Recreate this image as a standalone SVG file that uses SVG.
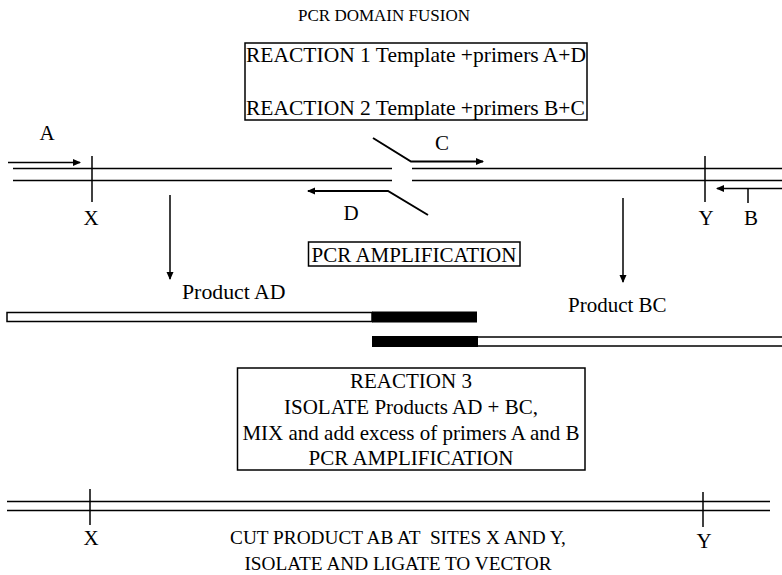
<svg xmlns="http://www.w3.org/2000/svg" width="782" height="575" viewBox="0 0 782 575">
<style>
text{font-family:"Liberation Serif","Times New Roman",serif;fill:#000;font-size:21px}
.ln{stroke:#000;stroke-width:1.5;fill:none}
.pr{stroke:#000;stroke-width:2;fill:none}
.box{stroke:#000;stroke-width:1.5;fill:none}
.mid{text-anchor:middle}
.big{font-size:21.5px}
.sm{font-size:19.3px}
</style>
<defs>
<marker id="ah" markerWidth="8" markerHeight="8" refX="7" refY="4" orient="auto" markerUnits="userSpaceOnUse">
<path d="M0,0.5 L8,4 L0,7.5 Z" fill="#000"/>
</marker>
</defs>
<g id="title"><text x="384" y="21" class="mid" style="font-size:17px">PCR DOMAIN FUSION</text></g>
<g id="reaction12">
<rect x="245" y="43" width="342" height="77" class="box"/>
<text x="246" y="62" class="big">REACTION 1 Template +primers A+D</text>
<text x="246" y="115" class="big">REACTION 2 Template +primers B+C</text>
</g>
<g id="template">
<line x1="13" y1="168.5" x2="392" y2="168.5" class="ln"/>
<line x1="13" y1="180.5" x2="392" y2="180.5" class="ln"/>
<line x1="412" y1="168.5" x2="782" y2="168.5" class="ln"/>
<line x1="412" y1="180.5" x2="782" y2="180.5" class="ln"/>
<line x1="92" y1="156" x2="92" y2="202" class="ln"/>
<line x1="705" y1="156" x2="705" y2="202" class="ln"/>
<text x="91" y="225" class="mid">X</text>
<text x="706" y="225" class="mid">Y</text>
</g>
<g id="primerA">
<line x1="8" y1="162.5" x2="80" y2="162.5" class="ln" marker-end="url(#ah)"/>
<text x="47" y="140" class="mid">A</text>
</g>
<g id="primerC">
<polyline points="373,138 411,161.5 483,161.5" class="pr" marker-end="url(#ah)"/>
<text x="442" y="150" class="mid">C</text>
</g>
<g id="primerD">
<polyline points="428,215 388,191 308,191" class="pr" marker-end="url(#ah)"/>
<text x="351" y="220" class="mid">D</text>
</g>
<g id="primerB">
<line x1="782" y1="188.5" x2="717" y2="188.5" class="ln" marker-end="url(#ah)"/>
<line x1="748" y1="188" x2="748" y2="203" class="ln"/>
<text x="751" y="225" class="mid">B</text>
</g>
<g id="connectors">
<line x1="170" y1="195" x2="170" y2="279" class="ln" marker-end="url(#ah)"/>
<line x1="623" y1="198" x2="623" y2="282" class="ln" marker-end="url(#ah)"/>
</g>
<g id="pcr-amp">
<rect x="308.5" y="242" width="211.5" height="24" class="box"/>
<text x="414" y="261.5" class="mid">PCR AMPLIFICATION</text>
</g>
<g id="productAD">
<text x="182" y="299" style="font-size:21.8px">Product AD</text>
<rect x="7" y="312.5" width="365" height="9" class="ln" fill="#fff"/>
<rect x="372" y="311.5" width="105" height="11" fill="#000"/>
</g>
<g id="productBC">
<text x="568" y="312">Product BC</text>
<rect x="372" y="336" width="106" height="11" fill="#000"/>
<rect x="477" y="337" width="310" height="9" class="ln" fill="#fff"/>
</g>
<g id="reaction3">
<rect x="237.5" y="368" width="347.5" height="102" class="box"/>
<text x="411" y="388" class="mid">REACTION 3</text>
<text x="411" y="414" class="mid">ISOLATE Products AD + BC,</text>
<text x="411" y="440" class="mid">MIX and add excess of primers A and B</text>
<text x="411" y="465" class="mid">PCR AMPLIFICATION</text>
</g>
<g id="productAB">
<line x1="7" y1="501.5" x2="770" y2="501.5" class="ln"/>
<line x1="7" y1="510.5" x2="770" y2="510.5" class="ln"/>
<line x1="90" y1="489" x2="90" y2="525" class="ln"/>
<line x1="703" y1="492" x2="703" y2="527" class="ln"/>
<text x="91" y="545" class="mid">X</text>
<text x="704" y="548" class="mid">Y</text>
<text x="398" y="544" class="mid sm" style="white-space:pre">CUT PRODUCT AB AT  SITES X AND Y,</text>
<text x="398" y="570" class="mid sm">ISOLATE AND LIGATE TO VECTOR</text>
</g>
</svg>
